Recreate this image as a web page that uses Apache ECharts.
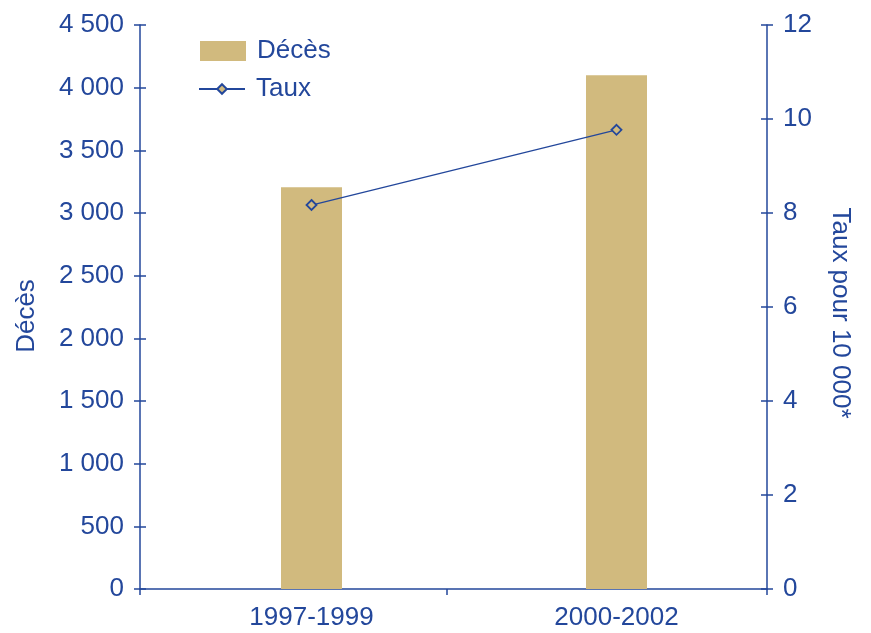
<!DOCTYPE html>
<html>
<head>
<meta charset="utf-8">
<script src="https://cdn.jsdelivr.net/npm/echarts@6/dist/echarts.min.js"></script>
<style>
  html, body { margin: 0; padding: 0; background: #ffffff; }
  #chart { width: 871px; height: 633px; }
</style>
</head>
<body>
<div id="chart"></div>
<script>
// Periods, number of deaths (left axis) and rate per 10 000 (right axis)
const periods = ['1997-1999', '2000-2002'];
const deaths = [3205, 4100];
const rates = [8.17, 9.77];

const leftTicks = { min: 0, max: 4500, interval: 500 };
const rightTicks = { min: 0, max: 12, interval: 2 };

const BLUE = '#23479B';
const GOLD = '#D1BA7E';
const FONT = '"Liberation Sans", Arial, sans-serif';
const FS = 26;

// thousands with a space, French style
const fmtFr = v => String(v).replace(/\B(?=(\d{3})+(?!\d))/g, ' ');

const chart = echarts.init(document.getElementById('chart'), null, { renderer: 'canvas' });

const lineStyle = { color: BLUE, width: 1.5 };
const legendText = { color: BLUE, fontSize: FS, fontFamily: FONT, padding: [0, 0, 0, 6] };

chart.setOption({
  animation: false,
  backgroundColor: '#ffffff',
  textStyle: { fontFamily: FONT },
  legend: [
    {
      orient: 'vertical',
      left: 195,
      top: 33,
      itemWidth: 46,
      itemHeight: 20,
      textStyle: legendText,
      data: [{ name: 'Décès', icon: 'rect' }]
    },
    {
      orient: 'vertical',
      left: 193,
      top: 71,
      itemWidth: 46,
      itemHeight: 12,
      textStyle: legendText,
      data: ['Taux']
    }
  ],
  grid: [
    { left: 140, right: 104, top: 25, bottom: 44 },
    { left: 159, right: 102, top: 25, bottom: 44 }
  ],
  xAxis: [
    {
      gridIndex: 0, type: 'value', min: 0, max: 627,
      axisLine: { show: true, lineStyle },
      axisTick: { show: true, length: 6, lineStyle, customValues: [0, 307, 627] },
      axisLabel: { show: false },
      splitLine: { show: false }
    },
    {
      gridIndex: 0, type: 'value', min: 0, max: 627,
      axisLine: { show: false },
      axisTick: { show: true, inside: true, length: 6, lineStyle, customValues: [307] },
      axisLabel: { show: false },
      splitLine: { show: false }
    },
    {
      gridIndex: 1, type: 'category', data: periods,
      axisLine: { show: false },
      axisTick: { show: false },
      axisLabel: { color: BLUE, fontSize: FS, fontFamily: FONT, margin: 16 }
    }
  ],
  yAxis: [
    {
      gridIndex: 0, type: 'value', position: 'left', ...leftTicks,
      name: 'Décès', nameLocation: 'middle', nameGap: 100,
      nameTextStyle: { color: BLUE, fontSize: FS, fontFamily: FONT, padding: [0, 18, 0, 0] },
      axisLine: { show: true, lineStyle },
      axisTick: { show: true, length: 6, lineStyle },
      axisLabel: { color: BLUE, fontSize: FS, fontFamily: FONT, margin: 16, formatter: fmtFr },
      splitLine: { show: false }
    },
    {
      gridIndex: 0, type: 'value', position: 'left', ...leftTicks,
      axisLine: { show: false },
      axisTick: { show: true, inside: true, length: 6, lineStyle },
      axisLabel: { show: false },
      splitLine: { show: false }
    },
    {
      gridIndex: 0, type: 'value', position: 'right', ...rightTicks,
      name: 'Taux pour 10 000*', nameLocation: 'middle', nameGap: 60, nameRotate: -90,
      nameTextStyle: { color: BLUE, fontSize: FS, fontFamily: FONT, padding: [0, 0, 0, 12] },
      axisLine: { show: true, lineStyle },
      axisTick: { show: true, length: 6, lineStyle },
      axisLabel: { color: BLUE, fontSize: FS, fontFamily: FONT, margin: 16 },
      splitLine: { show: false }
    },
    {
      gridIndex: 0, type: 'value', position: 'right', ...rightTicks,
      axisLine: { show: false },
      axisTick: { show: true, inside: true, length: 6, lineStyle },
      axisLabel: { show: false },
      splitLine: { show: false }
    },
    { gridIndex: 1, type: 'value', position: 'left', ...leftTicks, show: false },
    { gridIndex: 1, type: 'value', position: 'right', ...rightTicks, show: false }
  ],
  series: [
    {
      name: 'Décès', type: 'bar',
      xAxisIndex: 2, yAxisIndex: 4,
      barWidth: 61,
      itemStyle: { color: GOLD },
      data: deaths
    },
    {
      name: 'Taux', type: 'line',
      xAxisIndex: 2, yAxisIndex: 5,
      symbol: 'diamond', symbolSize: 10,
      lineStyle: { color: BLUE, width: 1.3 },
      itemStyle: { color: GOLD, borderColor: BLUE, borderWidth: 1.8 },
      data: rates
    }
  ]
});
</script>
</body>
</html>
